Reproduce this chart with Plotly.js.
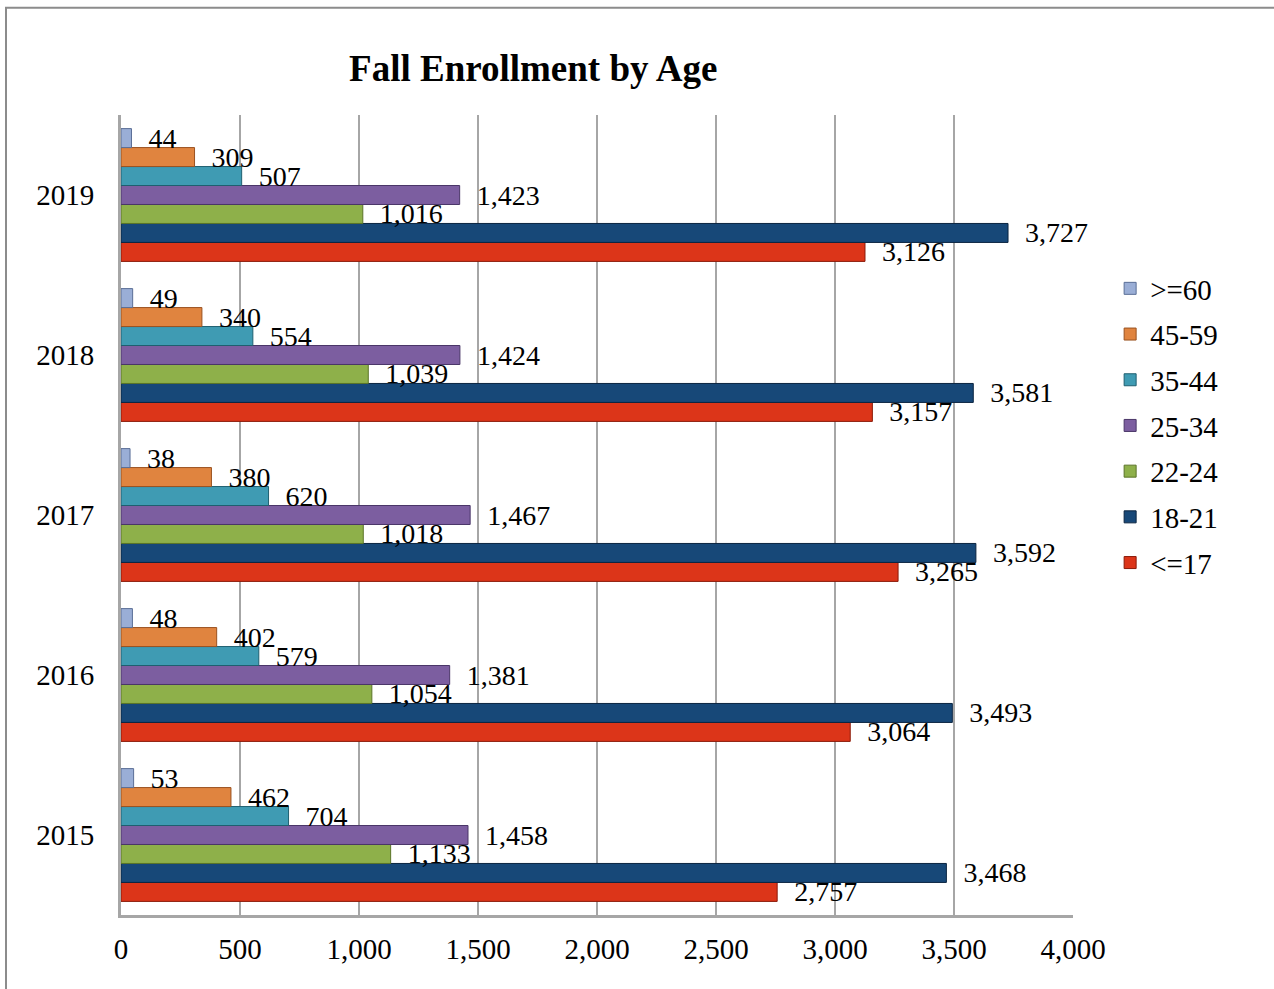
<!DOCTYPE html>
<html>
<head>
<meta charset="utf-8">
<script src="https://cdn.plot.ly/plotly-3.0.1.min.js"></script>
<style>
html,body{margin:0;padding:0;background:#fff;}
#chart{width:1274px;height:989px;}
</style>
</head>
<body>
<div id="chart"></div>
<script>
var years = ["2015", "2016", "2017", "2018", "2019"];
var seriesNames = ["<=17", "18-21", "22-24", "25-34", "35-44", "45-59", ">=60"];
var age17 = [2757, 3064, 3265, 3157, 3126];
var age18_21 = [3468, 3493, 3592, 3581, 3727];
var age22_24 = [1133, 1054, 1018, 1039, 1016];
var age25_34 = [1458, 1381, 1467, 1424, 1423];
var age35_44 = [704, 579, 620, 554, 507];
var age45_59 = [462, 402, 380, 340, 309];
var age60 = [53, 48, 38, 49, 44];
var xTicks = [0, 500, 1000, 1500, 2000, 2500, 3000, 3500, 4000];

var seriesValues = [age17, age18_21, age22_24, age25_34, age35_44, age45_59, age60];
var colors = ["#dc3519", "#174878", "#8eb04a", "#7c5ea0", "#3f9bb3", "#e0843f", "#9aaed6"];
var lineColors = ["#8a1a08", "#0a2440", "#5a7428", "#4a3668", "#1f5f70", "#9a5220", "#5a6e96"];
var serif = "Liberation Serif, Times New Roman, serif";

function fmt(v){ return v.toLocaleString("en-US"); }

var traces = seriesNames.map(function(name, i){
  return {
    type: "bar",
    orientation: "h",
    name: name,
    legendgroup: "g" + (seriesNames.length - i),
    legendrank: seriesNames.length - i,
    y: years,
    x: seriesValues[i],
    text: seriesValues[i].map(function(v){ return "\u00a0\u00a0" + fmt(v); }),
    textposition: "outside",
    constraintext: "none",
    cliponaxis: false,
    textfont: {family: serif, size: 28, color: "#000"},
    marker: {color: colors[i], line: {color: lineColors[i], width: 1}},
    hoverinfo: "x+name"
  };
});

var layout = {
  width: 1274,
  height: 989,
  margin: {l: 121, r: 201, t: 115, b: 74},
  paper_bgcolor: "#ffffff",
  plot_bgcolor: "#ffffff",
  barmode: "group",
  bargap: 0.17,
  bargroupgap: 0,
  showlegend: true,
  font: {family: serif, size: 29, color: "#000"},
  title: {
    text: "<b>Fall Enrollment by Age</b>",
    font: {family: serif, size: 37, color: "#000"},
    xref: "paper", x: 0.433, xanchor: "center",
    yref: "container", y: 0.931, yanchor: "middle"
  },
  xaxis: {
    range: [0, 4000],
    tickvals: xTicks,
    ticktext: xTicks.map(fmt),
    showgrid: true,
    gridcolor: "#a6a6a6",
    gridwidth: 2,
    zeroline: false,
    showline: true,
    linecolor: "#a6a6a6",
    linewidth: 3,
    ticks: "",
    ticklabelstandoff: 6,
    tickfont: {family: serif, size: 29, color: "#000"},
    fixedrange: true
  },
  yaxis: {
    type: "category",
    categoryorder: "array",
    categoryarray: years,
    range: [-0.5, 4.5],
    showgrid: false,
    zeroline: false,
    showline: true,
    linecolor: "#a6a6a6",
    linewidth: 3,
    ticks: "",
    ticklabelstandoff: 18,
    tickfont: {family: serif, size: 29, color: "#000"},
    fixedrange: true
  },
  legend: {
    traceorder: "grouped",
    x: 1.039, xref: "paper", xanchor: "left",
    y: 0.815, yanchor: "top",
    font: {family: serif, size: 29, color: "#000"},
    tracegroupgap: 5,
    itemwidth: 30,
    bgcolor: "rgba(0,0,0,0)"
  },
  shapes: [{
    type: "rect", xref: "paper", yref: "paper",
    x0: -0.1208, x1: 1.25, y0: -0.2, y1: 1.134,
    line: {color: "#8c8c8c", width: 2},
    fillcolor: "rgba(0,0,0,0)", layer: "below"
  }]
};

Plotly.newPlot("chart", traces, layout, {displayModeBar: false, responsive: false});
</script>
</body>
</html>
